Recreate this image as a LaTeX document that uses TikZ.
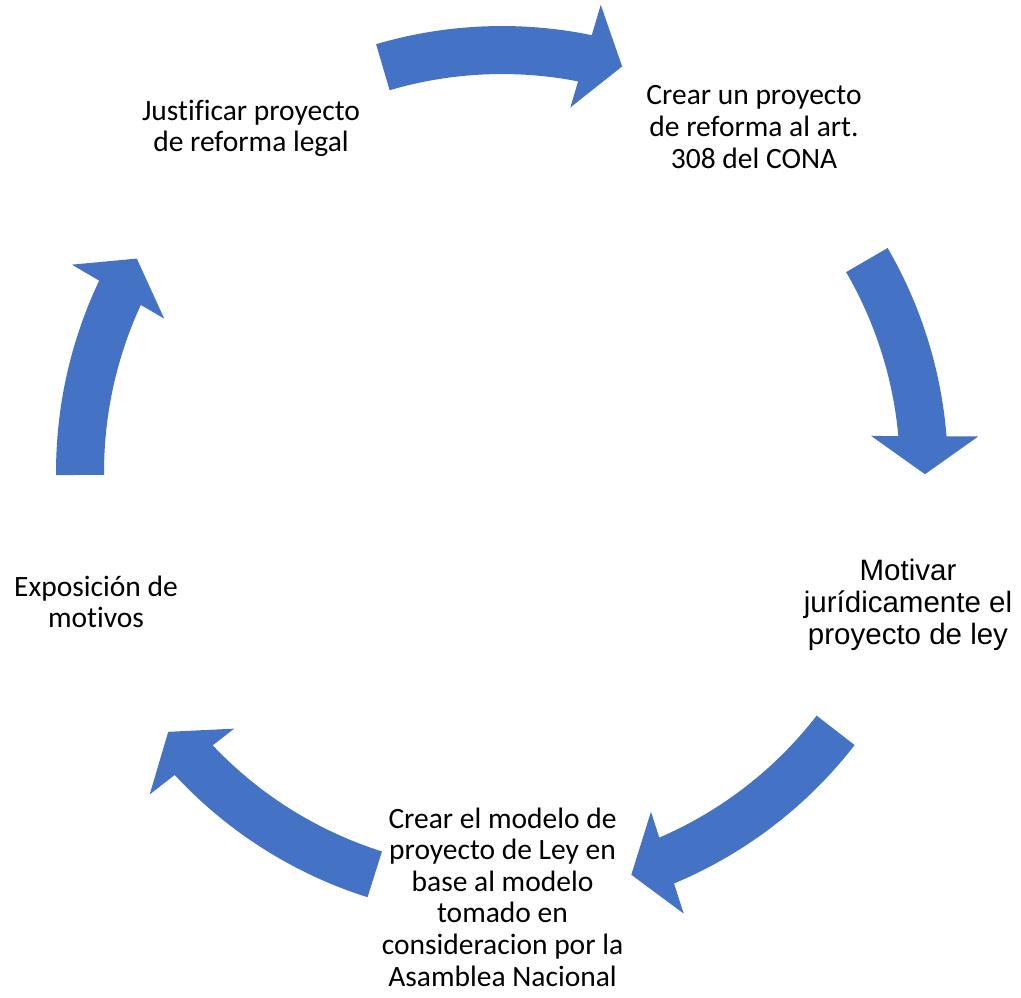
\documentclass[tikz,border=0pt]{standalone}
\usepackage{fontspec}
\setmainfont{Carlito}[Ligatures=NoCommon]
\newfontfamily\arialfont{Liberation Sans}
\definecolor{sablue}{HTML}{4472C4}
\tikzset{
  arrowfill/.style={fill=sablue, draw=none},
  cyctext/.style={align=center, inner sep=0pt, font=\fontsize{29.5}{31.6}\selectfont},
  cyctextarial/.style={align=center, inner sep=0pt, font=\arialfont\fontsize{29.5}{31.8}\selectfont}
}
\newcommand{\cycarrow}[2]{%
  \begin{scope}[shift={(O)}, rotate=#1]
    \fill[arrowfill] (4.888:446) arc[start angle=4.888, end angle=#2, radius=446]
      -- (#2:398) arc[start angle=#2, end angle=5.479, radius=398]
      -- (369,38) -- (423,0) -- (476,38) -- cycle;
  \end{scope}}
\begin{document}
\begin{tikzpicture}[x=1pt, y=1pt]
\useasboundingbox (0,0) rectangle (1021,-997);
\coordinate (O) at (502,-472);
% arrows
\cycarrow{73.5}{32.9}
\cycarrow{-0.3}{30.45}
\cycarrow{-72.2}{34.45}
\cycarrow{217.9}{34.55}
\cycarrow{149.7}{30.7}
% texts
\node[cyctext] (just) at (251,-128.5) {Justificar proyecto\\de reforma legal};
\node[cyctext] (crear) at (754,-127) {Crear un proyecto\\de reforma al art.\\308 del CONA};
\node[cyctextarial] (motivar) at (908,-605) {Motivar\\jurídicamente el\\proyecto de ley};
\node[cyctext] (modelo) at (502.5,-897) {Crear el modelo de\\proyecto de Ley en\\base al modelo\\tomado en\\consideracion por la\\Asamblea Nacional};
\node[cyctext] (expo) at (96,-602) {Exposición de\\motivos};
\end{tikzpicture}
\end{document}
